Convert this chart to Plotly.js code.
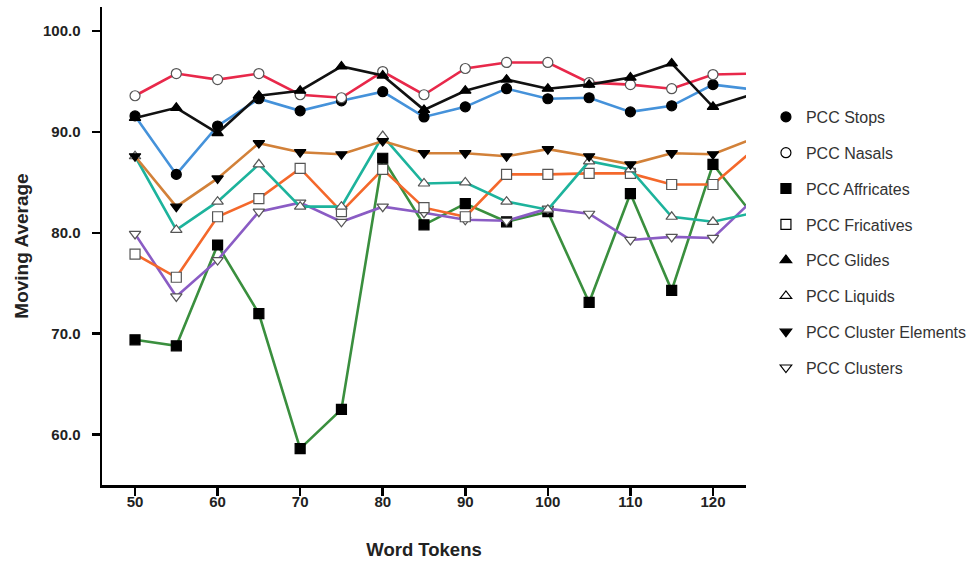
<!DOCTYPE html>
<html>
<head>
<meta charset="utf-8">
<script src="https://cdn.plot.ly/plotly-3.0.1.min.js"></script>
<style>html,body{margin:0;padding:0;background:#fff;}#chart{width:972px;height:565px;}</style>
</head>
<body>
<div id="chart"></div>
<script>
const wordTokens = [50, 55, 60, 65, 70, 75, 80, 85, 90, 95, 100, 105, 110, 115, 120, 125];

const stops            = [91.6, 85.8, 90.6, 93.3, 92.1, 93.1, 94.0, 91.5, 92.5, 94.3, 93.3, 93.4, 92.0, 92.6, 94.7, 94.2];
const nasals           = [93.6, 95.8, 95.2, 95.8, 93.7, 93.4, 96.0, 93.7, 96.3, 96.9, 96.9, 94.9, 94.7, 94.3, 95.7, 95.8];
const affricates       = [69.4, 68.8, 78.8, 72.0, 58.6, 62.5, 87.4, 80.8, 82.9, 81.1, 82.1, 73.1, 83.9, 74.3, 86.8, 81.6];
const fricatives       = [77.9, 75.6, 81.6, 83.4, 86.4, 82.1, 86.3, 82.5, 81.6, 85.8, 85.8, 85.9, 85.9, 84.8, 84.8, 88.3];
const glides           = [91.4, 92.4, 89.9, 93.6, 94.1, 96.5, 95.6, 92.2, 94.1, 95.2, 94.3, 94.7, 95.4, 96.8, 92.5, 93.8];
const liquids          = [87.6, 80.3, 83.1, 86.8, 82.6, 82.6, 89.6, 84.9, 85.0, 83.1, 82.3, 87.1, 86.3, 81.6, 81.1, 82.0];
const clusterElements  = [87.6, 82.6, 85.4, 88.9, 88.0, 87.8, 89.1, 87.9, 87.9, 87.6, 88.3, 87.6, 86.8, 87.9, 87.8, 89.4];
const clusters         = [79.9, 73.7, 77.3, 82.1, 83.0, 81.1, 82.6, 82.0, 81.3, 81.2, 82.4, 81.9, 79.3, 79.6, 79.5, 83.4];

const seriesNames = ["PCC Stops", "PCC Nasals", "PCC Affricates", "PCC Fricatives",
                     "PCC Glides", "PCC Liquids", "PCC Cluster Elements", "PCC Clusters"];
const seriesValues = [stops, nasals, affricates, fricatives, glides, liquids, clusterElements, clusters];
const lineColors = ["#4592DA", "#E8284A", "#3A8F3E", "#F4682B", "#111111", "#1DB39C", "#D28139", "#8A5CC4"];
const symbols = ["circle", "circle", "square", "square", "triangle-up", "triangle-up", "triangle-down", "triangle-down"];
const filled = [true, false, true, false, true, false, true, false];

const FONT = "Liberation Sans, Arial, sans-serif";
const traces = [];
const drawOrder = [2, 7, 3, 5, 6, 0, 1, 4];
drawOrder.forEach(i => {
  traces.push({
    type: "scatter", mode: "lines+markers",
    x: wordTokens, y: seriesValues[i], name: seriesNames[i],
    showlegend: false, cliponaxis: true,
    line: {color: lineColors[i], width: 2.6},
    marker: {
      symbol: symbols[i], size: 10,
      color: filled[i] ? "#000000" : "#ffffff",
      line: {color: filled[i] ? "#000000" : "#555555", width: 1.2}
    }
  });
});
seriesNames.forEach((nm, i) => {
  traces.push({
    type: "scatter", mode: "markers", x: [null], y: [null], name: nm,
    legendgroup: "g" + i, showlegend: true, hoverinfo: "skip",
    marker: {
      symbol: symbols[i] + (filled[i] ? "" : "-open"), size: 10,
      color: "#000000", line: {color: "#000000", width: 1.2}
    }
  });
});

const layout = {
  width: 972, height: 565,
  margin: {l: 102, r: 226, t: 7, b: 80, pad: 0, autoexpand: false},
  paper_bgcolor: "#ffffff", plot_bgcolor: "#ffffff",
  font: {family: FONT, color: "#222222"},
  showlegend: true,
  legend: {
    xref: "container", yref: "container",
    x: 0.788, xanchor: "left", y: 0.823, yanchor: "top",
    font: {family: FONT, size: 16, color: "#333333"},
    traceorder: "grouped", tracegroupgap: 12,
    bgcolor: "rgba(0,0,0,0)", itemwidth: 30
  },
  xaxis: {
    range: [46, 124], tick0: 50, dtick: 10,
    showgrid: false, zeroline: false,
    showline: true, linecolor: "#000000", linewidth: 2.5,
    ticks: "outside", ticklen: 8, tickwidth: 2.5, tickcolor: "#000000",
    ticklabelstandoff: -7,
    tickfont: {family: FONT, size: 15, color: "#222222", weight: "bold"},
    title: {text: "<b>Word Tokens</b>", font: {family: FONT, size: 18.5, color: "#222222"}, standoff: 35}
  },
  yaxis: {
    range: [55, 102.4], tick0: 60, dtick: 10, tickformat: ".1f",
    showgrid: false, zeroline: false,
    showline: true, linecolor: "#000000", linewidth: 2.5,
    ticks: "outside", ticklen: 8, tickwidth: 2.5, tickcolor: "#000000",
    ticklabelstandoff: 8,
    tickfont: {family: FONT, size: 15, color: "#222222", weight: "bold"},
    title: {text: "<b>Moving Average</b>", font: {family: FONT, size: 19, color: "#222222"}, standoff: 10}
  }
};

Plotly.newPlot("chart", traces, layout, {displayModeBar: false, staticPlot: true});
</script>
</body>
</html>
